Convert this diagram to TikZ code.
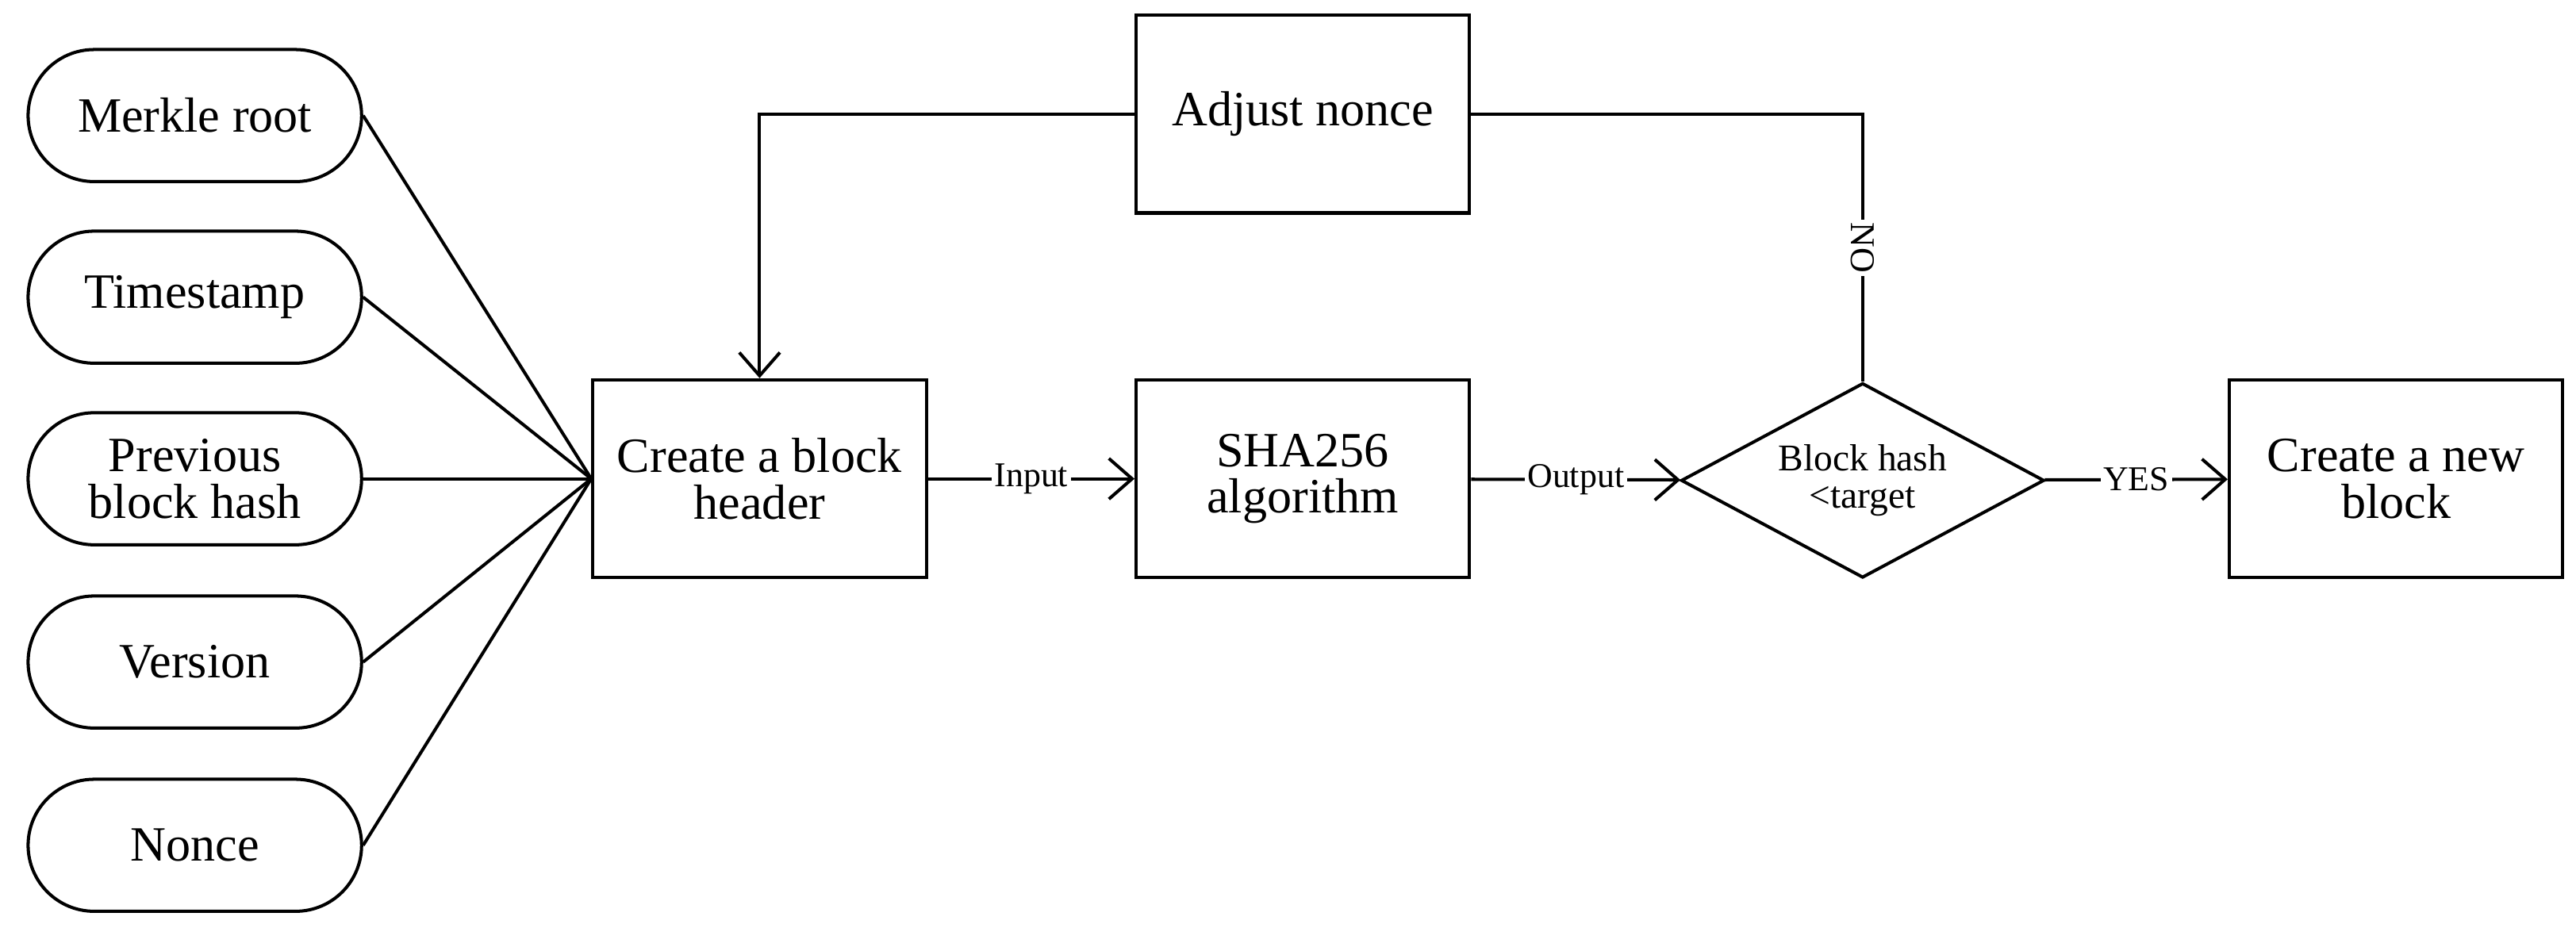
\documentclass[tikz,border=0pt]{standalone}
\usepackage{fontspec}
\setmainfont{Liberation Serif}
\usetikzlibrary{shapes.geometric,shapes.misc,arrows.meta}
\begin{document}
\begin{tikzpicture}[x=0.02cm,y=-0.02cm,line width=1.1pt,
  every node/.style={font=\fontsize{17}{19}\selectfont},
  st/.style={draw,rounded rectangle,minimum width=4.04cm,minimum height=1.6cm,align=center,inner sep=0pt},
  bx/.style={draw,rectangle,minimum width=4.04cm,minimum height=2.4cm,align=center,inner sep=0pt},
  lab/.style={fill=white,inner sep=1pt,font=\fontsize{12}{14}\selectfont},
  arr/.style={-{Straight Barb[length=8pt,width=14pt]}}]
\useasboundingbox (0,0) rectangle (1560,562);
\node[st] (m) at (118,70) {Merkle root};
\node[st] (t) at (118,180) {Timestamp};
\node[st] (p) at (118,290) {Previous\\[-3pt]block hash};
\node[st] (v) at (118,401) {Version};
\node[st] (n) at (118,512) {Nonce};
\node[bx] (c) at (460,290) {Create a block\\[-3pt]header};
\node[bx] (s) at (789,290) {SHA256\\[-3pt]algorithm};
\node[bx] (a) at (789,69) {Adjust nonce};
\node[draw,diamond,aspect=1.86,minimum width=4.4cm,minimum height=2.36cm,inner sep=0pt,align=center,font=\fontsize{13}{15}\selectfont] (d) at (1128,291) {Block hash\\[-2pt]<target};
\node[bx] (b) at (1451,290) {Create a new\\[-3pt]block};
\foreach \q in {m,t,p,v,n} \draw (\q.east) -- (c.west);
\draw[arr] (c) -- node[lab]{Input} (s);
\draw[arr] (s) -- node[lab]{Output} (d);
\draw[arr] (d) -- node[lab]{YES} (b);
\draw[arr] (a.west) -| (c.north);
\draw (d.north) -- node[lab,rotate=-90]{NO} (1128,69) -- (a.east);
\end{tikzpicture}
\end{document}
